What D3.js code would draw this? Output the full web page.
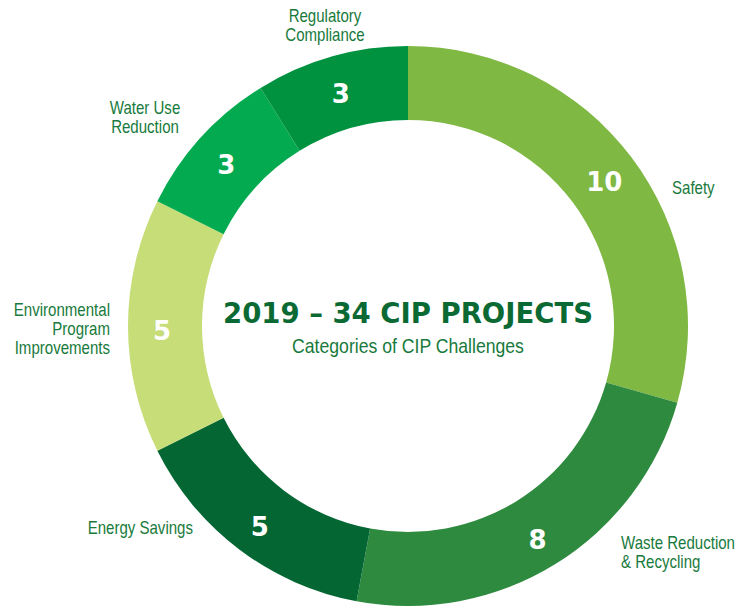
<!DOCTYPE html>
<html>
<head>
<meta charset="utf-8">
<script src="https://cdn.jsdelivr.net/npm/d3@7"></script>
<style>
  body { margin: 0; background: #fff; }
  svg { display: block; }
  .cat { font-family: "Liberation Sans", Arial, sans-serif; font-size: 17.5px; fill: #187a3c; }
  .num { font-family: "DejaVu Sans", sans-serif; font-weight: bold; font-size: 26px; fill: #fff; }
</style>
</head>
<body>
<div id="chart"></div>
<script>
// data
const categories = ["Safety", "Waste Reduction\n& Recycling", "Energy Savings", "Environmental\nProgram\nImprovements", "Water Use\nReduction", "Regulatory\nCompliance"];
const values = [10, 8, 5, 5, 3, 3];
const colors = ["#7fb843", "#2d8a3e", "#046633", "#c6dd78", "#03aa4f", "#019240"];

// where each outside label goes (x, y of first line, anchor)
const labelPos = [
  [672, 194, "start"],
  [621, 549, "start"],
  [193, 534, "end"],
  [110, 316, "end"],
  [145, 114, "middle"],
  [325, 22, "middle"]
];

const width = 737, height = 607;
const cx = 408, cy = 326;
const outerR = 280, innerR = 206;
const narrow = 0.86; // squeeze to mimic the condensed face

const svg = d3.select('#chart').append('svg')
  .attr('width', width)
  .attr('height', height);

const pie = d3.pie().sort(null).value(d => d);
const arc = d3.arc().innerRadius(innerR).outerRadius(outerR);
const labelArc = d3.arc().innerRadius(246).outerRadius(246);
const arcs = pie(values);

const g = svg.append('g').attr('transform', `translate(${cx},${cy})`);

g.selectAll('path')
  .data(arcs)
  .enter()
  .append('path')
  .attr('d', arc)
  .attr('fill', (d, i) => colors[i]);

// values in the ring
g.selectAll('text.num')
  .data(arcs)
  .enter()
  .append('text')
  .attr('class', 'num')
  .attr('text-anchor', 'middle')
  .attr('dy', '0.52em')
  .attr('transform', d => {
    const [x, y] = labelArc.centroid(d);
    return `translate(${x},${y})`;
  })
  .text(d => d.data);

// category labels
categories.forEach((c, i) => {
  const [x, y, anchor] = labelPos[i];
  const t = svg.append('text')
    .attr('class', 'cat')
    .attr('text-anchor', anchor)
    .attr('transform', `translate(${x},${y}) scale(${narrow},1)`);
  c.split('\n').forEach((line, j) => {
    t.append('tspan')
      .attr('x', 0)
      .attr('dy', j === 0 ? 0 : 19)
      .text(line);
  });
});

// centre title
const total = d3.sum(values);
svg.append('text')
  .attr('x', cx)
  .attr('y', 323)
  .attr('text-anchor', 'middle')
  .attr('textLength', 370)
  .attr('lengthAdjust', 'spacingAndGlyphs')
  .style('font-family', '"DejaVu Sans", sans-serif')
  .style('font-weight', 'bold')
  .style('font-size', '28px')
  .style('fill', '#0b6a34')
  .text(`2019 – ${total} CIP PROJECTS`);

svg.append('text')
  .attr('class', 'cat')
  .attr('text-anchor', 'middle')
  .attr('transform', `translate(${cx},353) scale(${narrow},1)`)
  .style('font-size', '20.5px')
  .text('Categories of CIP Challenges');
</script>
</body>
</html>
